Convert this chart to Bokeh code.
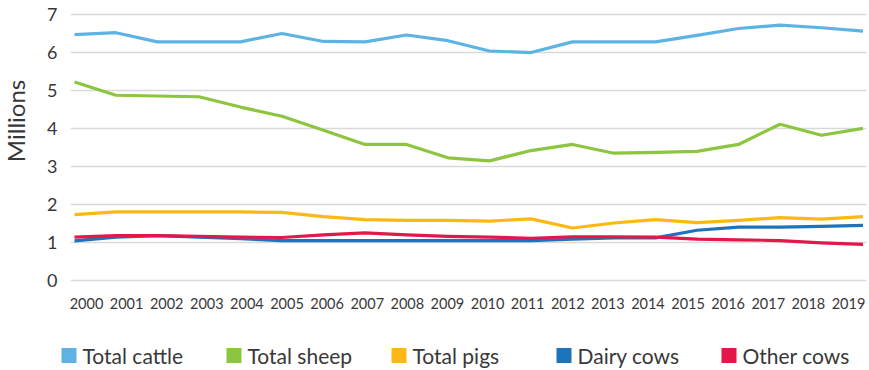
import math

from bokeh.plotting import figure
from bokeh.layouts import column, row
from bokeh.models import Range1d, LinearAxis, FixedTicker, ColumnDataSource
from bokeh.core.properties import value
from bokeh.embed import file_html
from bokeh.resources import INLINE

# Livestock numbers, millions of head
years = list(range(2000, 2020))
total_cattle = [6.46, 6.51, 6.27, 6.27, 6.27, 6.49, 6.28, 6.27, 6.45, 6.30,
                6.03, 5.99, 6.27, 6.27, 6.27, 6.44, 6.62, 6.71, 6.64, 6.55]
total_sheep = [5.22, 4.87, 4.85, 4.83, 4.56, 4.32, 3.95, 3.58, 3.58, 3.23,
               3.15, 3.42, 3.58, 3.35, 3.37, 3.40, 3.58, 4.11, 3.82, 4.00]
total_pigs = [1.74, 1.81, 1.81, 1.81, 1.81, 1.80, 1.69, 1.61, 1.59, 1.59,
              1.57, 1.63, 1.39, 1.52, 1.61, 1.53, 1.59, 1.66, 1.62, 1.69]
dairy_cows = [1.05, 1.15, 1.19, 1.15, 1.11, 1.06, 1.06, 1.06, 1.06, 1.06,
              1.06, 1.06, 1.10, 1.13, 1.13, 1.33, 1.41, 1.41, 1.43, 1.46]
other_cows = [1.15, 1.19, 1.19, 1.17, 1.15, 1.14, 1.21, 1.26, 1.21, 1.17,
              1.15, 1.12, 1.16, 1.16, 1.15, 1.10, 1.08, 1.06, 1.00, 0.96]

series_names = ["Total cattle", "Total sheep", "Total pigs", "Dairy cows", "Other cows"]
series_values = [total_cattle, total_sheep, total_pigs, dairy_cows, other_cows]
series_colors = ["#5DB3E4", "#8DC540", "#FDB813", "#1C75BC", "#E2184B"]
y_ticks = list(range(0, 8))

FONT = "Lato"
TEXT = "#383838"


def bare(width, height):
    """A plain canvas whose data units are pixels, for side text and the key."""
    f = figure(width=width, height=height, output_backend="svg",
               toolbar_location=None, x_range=Range1d(0, width),
               y_range=Range1d(0, height), x_axis_location=None,
               y_axis_location=None, min_border=0, min_border_left=0,
               min_border_right=0, min_border_top=0, min_border_bottom=0)
    f.outline_line_color = None
    f.xgrid.visible = False
    f.ygrid.visible = False
    return f


# ---- main chart ----
p = figure(width=839, height=320, output_backend="svg", toolbar_location=None,
           x_range=Range1d(1999.904, 2019.084), y_range=Range1d(-0.092, 7.092),
           x_axis_location=None,
           min_border_left=40, min_border_right=3, min_border_top=10,
           min_border_bottom=36)
p.outline_line_color = None
p.background_fill_color = "white"
p.border_fill_color = "white"

# horizontal gridlines only
p.xgrid.visible = False
p.yaxis.ticker = FixedTicker(ticks=y_ticks)
p.ygrid.grid_line_color = "#D9D9D9"
p.ygrid.grid_line_width = 1.6

yax = p.yaxis[0]
yax.axis_line_color = None
yax.major_tick_line_color = None
yax.minor_tick_line_color = None
yax.major_tick_out = 0
yax.major_label_standoff = 13
yax.major_label_text_font = FONT
yax.major_label_text_font_size = "18px"
yax.major_label_text_color = TEXT

# year labels on their own evenly spread scale
p.extra_x_ranges = {"labels": Range1d(1999.601, 2019.449)}
xax = LinearAxis(x_range_name="labels", ticker=FixedTicker(ticks=years))
xax.axis_line_color = None
xax.major_tick_line_color = None
xax.minor_tick_line_color = None
xax.major_tick_out = 0
xax.major_label_standoff = 13
xax.major_label_text_font = FONT
xax.major_label_text_font_size = "14.5px"
xax.major_label_text_color = TEXT
p.add_layout(xax, "below")

for name, vals, col in zip(series_names, series_values, series_colors):
    p.line(x=years, y=vals, line_color=col, line_width=3.2, line_join="round")

# ---- vertical unit label to the left of the chart ----
side = bare(30, 320)
side.text(x=[15], y=[191], text=["Millions"], angle=math.pi / 2,
          text_align="center", text_baseline="middle",
          text_font=value(FONT), text_font_size="24px", text_color=TEXT)

# ---- key underneath: swatch + name on fixed 165 px columns ----
key = bare(869, 50)
col_x = [61 + 165 * i for i in range(len(series_names))]
key_src = ColumnDataSource(dict(
    sx=[x + 7.5 for x in col_x],
    tx=[x + 21 for x in col_x],
    y=[15] * len(series_names),
    name=series_names,
    color=series_colors,
))
key.rect(x="sx", y="y", width=15, height=15, fill_color="color",
         line_color=None, source=key_src)
key.text(x="tx", y="y", text="name", text_align="left", text_baseline="middle",
         text_font=value(FONT), text_font_size="21px", text_color=TEXT,
         source=key_src)

page = column(row(side, p, spacing=0), key, spacing=0)
open("out.html", "w").write(file_html(page, INLINE))
